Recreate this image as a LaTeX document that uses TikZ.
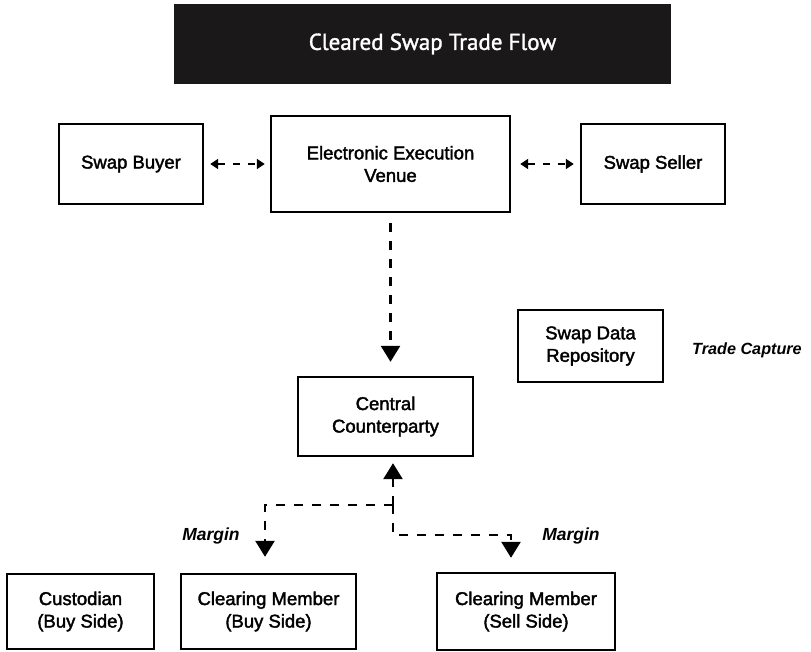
\documentclass[tikz,border=0pt]{standalone}
\usepackage{fontspec}
\setmainfont{Liberation Sans}
\newfontfamily\boxfont{Liberation Sans}[FakeBold=2]
\newfontfamily\notefont{Liberation Sans}
\newfontfamily\titlefont{PT Sans}[FakeBold=1.5]
\usetikzlibrary{arrows.meta}
\definecolor{barblack}{RGB}{26,24,25}
\begin{document}
\begin{tikzpicture}[x=1pt,y=-1pt,
  box/.style={draw, line width=2.4pt, inner sep=0pt, align=center,
    font=\boxfont\fontsize{18.5}{22.5}\selectfont},
  note/.style={font=\notefont\bfseries\itshape\fontsize{17.5}{20}\selectfont},
  flow/.style={line width=2.6pt, dash pattern=on 9pt off 9pt},
  bigtip/.style={-{Triangle[width=19pt,length=16pt]}},
  smalltips/.style={{Triangle[width=10pt,length=8pt]}-{Triangle[width=10pt,length=8pt]},
    line width=2.6pt, dash pattern=on 7pt off 8pt}
]
\useasboundingbox (0,0) rectangle (811,652);

\node[fill=barblack, minimum width=497pt, minimum height=80pt, inner sep=0pt,
      text=white, font=\titlefont\fontsize{23}{26}\selectfont]
      (title) at (422.5,44) {\hspace*{20pt}Cleared Swap Trade Flow};

\node[box, minimum width=144pt, minimum height=80pt] (buyer) at (131,164) {Swap Buyer};
\node[box, minimum width=239pt, minimum height=96pt] (eev) at (390.5,164) {Electronic Execution\\Venue};
\node[box, minimum width=144pt, minimum height=80pt] (seller) at (653,164) {Swap Seller};

\node[box, minimum width=145pt, minimum height=72pt] (sdr) at (590.5,346) {Swap Data\\Repository};
\node[note, font=\notefont\bfseries\itshape\fontsize{16.2}{20}\selectfont] (tc) at (747,350) {Trade Capture};

\node[box, minimum width=175pt, minimum height=79pt] (ccp) at (385.5,416.5) {Central\\Counterparty};

\node[box, minimum width=147pt, minimum height=75pt] (cust) at (80.5,611.5) {Custodian\\(Buy Side)};
\node[box, minimum width=175pt, minimum height=75pt] (cmbuy) at (268.5,611.5) {Clearing Member\\(Buy Side)};
\node[box, minimum width=178pt, minimum height=77pt] (cmsell) at (526,611.5) {Clearing Member\\(Sell Side)};

\node[note] (mleft) at (211,536) {Margin};
\node[note] (mright) at (571,536) {Margin};

% top row double arrows
\draw[smalltips, shorten <=6pt, shorten >=5pt] (buyer.east) -- (eev.west);
\draw[smalltips, shorten <=9pt, shorten >=6pt] (eev.east) -- (seller.west);

% venue to CCP
\draw[flow, bigtip, shorten <=10pt, shorten >=14pt] (eev.south) -- (eev.south |- ccp.north);

% margin flows
\coordinate (J) at (393,505);
\coordinate (L) at (265,505);
\coordinate (R1) at (393,535);
\coordinate (R2) at (511,535);
\draw[flow, bigtip, shorten >=6pt] (J) -- (J |- ccp.south);
\draw[flow, bigtip, shorten >=16pt] (J) -- (L) -- (L |- cmbuy.north);
\draw[flow, bigtip, shorten >=14pt] (J) -- (R1) -- (R2) -- (R2 |- cmsell.north);
\end{tikzpicture}
\end{document}
